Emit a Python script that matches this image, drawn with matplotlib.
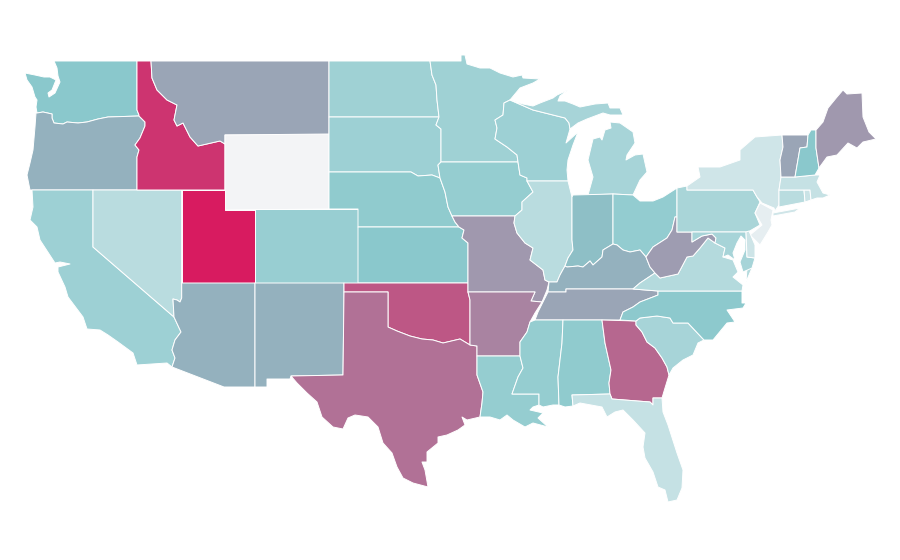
import matplotlib
matplotlib.use('Agg')
import matplotlib.pyplot as plt
from matplotlib.collections import PolyCollection
from matplotlib.colors import LinearSegmentedColormap, Normalize

# estimated from the fill colours, 0 = palest, 100 = deepest pink
states = ['WA', 'OR', 'CA', 'NV', 'ID', 'MT', 'WY', 'UT', 'AZ', 'CO', 'NM',
          'ND', 'SD', 'NE', 'KS', 'OK', 'TX', 'MN', 'IA', 'MO', 'AR', 'LA',
          'WI', 'IL', 'MI', 'IN', 'OH', 'KY', 'TN', 'MS', 'AL', 'GA', 'FL',
          'SC', 'NC', 'VA', 'WV', 'PA', 'NY', 'NJ', 'MD', 'DE', 'CT', 'RI',
          'MA', 'VT', 'NH', 'ME']
values = [25, 35, 20.5, 14, 89, 40, 0, 100, 35, 21.5, 35,
          20, 20.5, 23.5, 25, 74, 62.5, 20, 22.5, 46, 55, 22.5,
          20.5, 14, 18, 29, 23, 35, 40, 22.5, 23.5, 67, 11,
          18, 24.5, 15, 44, 17.7, 8.7, 3.4, 18, 9, 14, 10,
          11, 40, 25, 46]

# state outlines, traced in picture pixels
outlines = {
    'WA': [[(54, 61), (137, 61), (137, 110), (139, 115), (139, 116), (108, 117), (98, 119), (87, 122), (78, 123),
            (67, 122), (63, 124), (54, 123), (52, 118), (52, 114), (43, 112), (37, 113), (36, 107), (37, 100),
            (35, 97), (32, 87), (27, 80), (25, 73), (35, 75), (44, 77), (50, 77), (56, 80), (52, 90), (48, 93),
            (49, 97), (55, 93), (60, 82), (58, 76), (57, 68)]],
    'OR': [[(37, 113), (43, 112), (52, 114), (52, 118), (54, 123), (63, 124), (67, 122), (78, 123), (87, 122),
            (98, 119), (108, 117), (139, 116), (145, 122), (145, 126), (140, 138), (135, 145), (139, 150),
            (137, 157), (137, 190), (30, 190), (27, 175), (30, 163), (33, 150), (35, 127), (36, 113)]],
    'CA': [[(32, 190), (93, 190), (93, 247), (174, 317), (181, 332), (175, 340), (172, 350), (175, 358), (172, 367),
            (167, 363), (137, 365), (133, 353), (118, 342), (108, 335), (100, 330), (87, 329), (83, 317), (68, 297),
            (65, 287), (58, 272), (58, 267), (70, 264), (60, 262), (55, 263), (40, 240), (37, 227), (30, 220),
            (33, 207)]],
    'NV': [[(93, 190), (181.7, 190), (181.7, 298), (180, 302), (177, 300), (173, 299), (174, 317), (93, 247)]],
    'ID': [[(137, 61), (151, 61), (152, 78), (157, 90), (167, 100), (177, 105), (174, 120), (177, 126), (183, 123),
            (190, 137), (198, 146), (220, 141), (225, 144), (225, 190), (137, 190), (137, 157), (139, 150), (135, 145),
            (140, 138), (145, 126), (145, 122), (139, 116), (139, 115), (137, 110)]],
    'MT': [[(151, 61), (329, 61), (329, 135), (225, 135), (225, 144), (220, 141), (198, 146), (190, 137), (183, 123),
            (177, 126), (174, 120), (177, 105), (167, 100), (157, 90), (152, 78)]],
    'WY': [[(225, 135), (329, 134), (329, 209), (225, 210)]],
    'UT': [[(181.7, 190), (225, 190), (225, 210), (255, 210), (255, 283), (181.7, 283)]],
    'AZ': [[(181.7, 283), (255, 283), (255, 387), (224, 387), (172, 367), (175, 358), (172, 350), (175, 340), (181, 332),
            (174, 317), (173, 299), (177, 300), (180, 302), (181.7, 298)]],
    'CO': [[(255, 209), (358, 209), (358, 283), (255, 283)]],
    'NM': [[(255, 283), (344, 283), (344, 292), (343, 375), (291, 376), (290, 379), (267, 379), (267, 387), (255, 387)]],
    'ND': [[(329, 61), (430, 61), (432, 75), (436, 85), (437, 100), (439, 117), (329, 117)]],
    'SD': [[(329, 117), (439, 117), (436, 125), (441, 129), (441, 162), (438, 165), (440, 178), (432, 175), (418, 176),
            (411, 172), (329, 172)]],
    'NE': [[(329, 172), (411, 172), (418, 176), (432, 175), (440, 178), (445, 192), (448, 207), (452, 216), (455, 222),
            (459, 227), (358, 227), (358, 209), (329, 209)]],
    'KS': [[(358, 227), (459, 227), (464, 230), (462, 238), (468, 243), (468, 283), (358, 283)]],
    'OK': [[(344, 283), (468, 283), (468, 292), (470, 300), (470, 345), (460, 339), (443, 343), (433, 340), (422, 339),
            (410, 336), (397, 331), (388, 327), (388, 292), (344, 292)]],
    'TX': [[(344, 292), (388, 292), (388, 327), (397, 331), (410, 336), (422, 339), (433, 340), (443, 343), (460, 339),
            (470, 345), (477, 346), (477, 356), (477, 375), (483, 392), (482, 403), (480, 417), (467, 420), (462, 417),
            (465, 425), (458, 430), (447, 435), (438, 437), (438, 443), (427, 452), (427, 462), (422, 462), (425, 470),
            (428, 487), (413, 483), (403, 478), (397, 467), (392, 453), (383, 443), (378, 427), (368, 417), (355, 415),
            (348, 418), (343, 429), (333, 427), (322, 417), (317, 402), (307, 393), (297, 383), (291, 376), (343, 375)]],
    'MN': [[(430, 61), (461, 61), (461, 55), (465, 55), (467, 64), (480, 68), (490, 68), (500, 73), (513, 77), (522, 75),
            (523, 78), (540, 79), (533, 83), (520, 88), (510, 100), (504, 103), (503, 115), (495, 120), (497, 128),
            (495, 139), (507, 147), (517, 155), (518, 162), (441, 162), (441, 129), (436, 125), (439, 117), (437, 100),
            (436, 85), (432, 75)]],
    'IA': [[(441, 162), (518, 162), (520, 175), (527, 178), (527, 181), (533, 192), (522, 202), (522, 210), (515, 216),
            (452, 216), (448, 207), (445, 192), (440, 178), (438, 165)]],
    'MO': [[(452, 216), (515, 216), (514, 223), (517, 233), (525, 243), (533, 248), (530, 260), (543, 270), (545, 280),
            (549, 282), (547, 290), (542, 302), (531, 301), (535, 292), (468, 292), (468, 243), (462, 238), (464, 230),
            (459, 227), (455, 222)]],
    'AR': [[(468, 292), (535, 292), (531, 301), (542, 302), (535, 313), (530, 322), (527, 332), (520, 342), (520, 356),
            (477, 356), (477, 346), (470, 345), (470, 300)]],
    'LA': [[(477, 356), (520, 356), (523, 368), (518, 377), (512, 394), (539, 394), (539, 405), (533, 407), (530, 410),
            (543, 413), (538, 418), (548, 427), (533, 423), (525, 427), (513, 420), (507, 415), (500, 420), (490, 417),
            (480, 417), (482, 403), (483, 392), (477, 375)]],
    'WI': [[(504, 103), (510, 100), (533, 110), (553, 115), (565, 118), (569, 123), (570, 129), (566, 143), (578, 132),
            (573, 145), (568, 160), (567, 170), (568, 181), (527, 181), (527, 178), (520, 175), (518, 162), (517, 155),
            (507, 147), (495, 139), (497, 128), (495, 120), (503, 115)]],
    'IL': [[(527, 181), (568, 181), (572, 197), (572, 240), (573, 250), (568, 258), (565, 266), (560, 275), (557, 282),
            (549, 282), (545, 280), (543, 270), (530, 260), (533, 248), (525, 243), (517, 233), (514, 223), (515, 216),
            (522, 210), (522, 202), (533, 192)]],
    'MI': [[(523, 104), (533, 106), (540, 103), (553, 98), (557, 95), (568, 90), (560, 96), (558, 101), (565, 101),
            (573, 104), (580, 107), (595, 104), (608, 103), (610, 108), (620, 108), (623, 115), (610, 115), (603, 113),
            (587, 119), (578, 123), (570, 129), (569, 123), (565, 118), (553, 115), (533, 110), (510, 100)],
           [(588, 195), (593, 177), (588, 160), (593, 139), (600, 137), (602, 140), (605, 130), (611, 128), (610, 122),
            (620, 123), (633, 132), (635, 143), (627, 155), (626, 160), (635, 155), (643, 154), (647, 172), (640, 180),
            (633, 195), (613, 194)]],
    'IN': [[(572, 197), (573, 195), (613, 194), (613, 244), (603, 250), (602, 257), (593, 265), (590, 261), (583, 267),
            (578, 266), (567, 267), (565, 266), (568, 258), (573, 250), (572, 240)]],
    'OH': [[(613, 194), (633, 195), (640, 201), (653, 201), (663, 197), (677, 188), (677, 217), (675, 217), (672, 230),
            (667, 238), (653, 247), (646, 257), (640, 250), (630, 252), (623, 250), (617, 245), (613, 244)]],
    'KY': [[(565, 266), (567, 267), (578, 266), (583, 267), (590, 261), (593, 265), (602, 257), (603, 250), (613, 244),
            (617, 245), (623, 250), (630, 252), (640, 250), (646, 257), (650, 267), (655, 273), (640, 283), (633, 289),
            (566, 289), (566, 292), (548, 292), (549, 282), (557, 282), (560, 275)]],
    'TN': [[(548, 292), (566, 292), (566, 289), (633, 289), (658, 291), (658, 295), (653, 297), (640, 302), (633, 307),
            (623, 312), (620, 320), (535, 320), (538, 312), (543, 302)]],
    'MS': [[(535, 320), (563, 320), (562, 343), (558, 377), (559, 405), (553, 405), (543, 407), (539, 405), (539, 394),
            (512, 394), (518, 377), (523, 368), (520, 356), (520, 342), (527, 332), (530, 322)]],
    'AL': [[(563, 320), (602, 320), (605, 343), (611, 370), (609, 383), (610, 394), (572, 395), (573, 406), (565, 407),
            (559, 405), (558, 377), (562, 343)]],
    'GA': [[(602, 320), (636, 321), (636, 325), (642, 332), (647, 342), (655, 348), (662, 358), (667, 367), (669, 375),
            (665, 388), (662, 398), (653, 398), (653, 405), (650, 402), (612, 399), (610, 394), (609, 383), (611, 370),
            (605, 343)]],
    'FL': [[(572, 395), (610, 394), (612, 399), (650, 402), (653, 405), (653, 398), (662, 398), (663, 412), (668, 425),
            (677, 453), (683, 470), (682, 488), (677, 500), (668, 502), (665, 490), (658, 487), (653, 472), (645, 458),
            (643, 447), (645, 433), (633, 420), (623, 410), (615, 412), (607, 417), (602, 407), (580, 403), (573, 406)]],
    'SC': [[(636, 325), (636, 321), (640, 318), (657, 316), (670, 318), (673, 323), (688, 323), (704, 340), (698, 343),
            (693, 355), (683, 360), (673, 368), (669, 375), (667, 367), (662, 358), (655, 348), (647, 342), (642, 332)]],
    'NC': [[(620, 320), (623, 312), (633, 307), (640, 302), (653, 297), (658, 295), (658, 291), (742, 291), (742, 303),
            (746, 303), (743, 308), (727, 310), (735, 322), (727, 323), (713, 340), (704, 340), (688, 323), (673, 323),
            (670, 318), (657, 316), (640, 318), (636, 321)]],
    'VA': [[(633, 289), (640, 283), (655, 273), (660, 278), (678, 274), (687, 257), (693, 256), (700, 248), (708, 238),
            (715, 243), (725, 248), (723, 257), (733, 260), (738, 272), (733, 277), (743, 285), (742, 291), (658, 291)],
           [(747, 268), (752, 268), (746, 282)]],
    'WV': [[(675, 217), (677, 217), (677, 232), (692, 232), (692, 242), (702, 236), (712, 234), (716, 238), (715, 243),
            (708, 238), (700, 248), (693, 256), (687, 257), (678, 274), (660, 278), (655, 273), (650, 267), (646, 257),
            (653, 247), (667, 238), (672, 230)]],
    'PA': [[(677, 188), (687, 186), (687, 190), (753, 190), (757, 197), (760, 202), (755, 213), (760, 225), (748, 232),
            (677, 232)]],
    'NY': [[(687, 190), (687, 186), (700, 177), (698, 167), (720, 167), (740, 160), (740, 150), (755, 137), (782, 135),
            (783, 147), (780, 160), (781, 177), (779, 190), (779, 205), (775, 211), (774, 208), (762, 203), (757, 197),
            (753, 190)],
           [(773, 213), (800, 208), (795, 212), (773, 216)]],
    'NJ': [[(760, 203), (773, 210), (771, 220), (772, 225), (768, 232), (760, 245), (750, 235), (762, 225), (755, 213)]],
    'MD': [[(692, 232), (746, 232), (747, 257), (755, 258), (752, 268), (743, 272), (740, 262), (745, 250), (745, 240),
            (741, 236), (737, 243), (733, 253), (735, 260), (728, 255), (723, 257), (725, 248), (715, 243), (716, 238),
            (712, 234), (702, 236), (692, 242)]],
    'DE': [[(746, 232), (749, 231), (755, 245), (755, 258), (747, 257)]],
    'CT': [[(779, 190), (804, 190), (805, 202), (779, 207)]],
    'RI': [[(804, 190), (810, 190), (811, 200), (805, 202)]],
    'MA': [[(781, 177), (795, 177), (815, 175), (820, 175), (817, 182), (823, 193), (830, 195), (823, 198), (817, 198),
            (811, 200), (810, 190), (779, 190)]],
    'VT': [[(782, 135), (808, 135), (807, 147), (800, 148), (795, 177), (781, 177), (780, 160), (783, 147)]],
    'NH': [[(808, 135), (811, 130), (816, 130), (816, 148), (819, 168), (815, 175), (795, 177), (800, 148), (807, 147)]],
    'ME': [[(816, 130), (823, 122), (828, 108), (837, 97), (843, 90), (847, 94), (862, 93), (863, 117), (869, 132),
            (876, 139), (863, 142), (857, 148), (848, 143), (837, 155), (827, 157), (819, 168), (816, 148)]],
}

cmap = LinearSegmentedColormap.from_list('map_scale', [(0, '#f3f4f6'), (0.25, '#8ac8cc'), (1, '#d81b60')])

polys = []
poly_values = []
for state, value in zip(states, values):
    for part in outlines[state]:
        polys.append(part)
        poly_values.append(value)

fig = plt.figure(figsize=(9, 5.6), dpi=100)
ax = fig.add_axes([0, 0, 1, 1])
shapes = PolyCollection(polys, array=poly_values, cmap=cmap, norm=Normalize(0, 100),
                        edgecolors='white', linewidths=0.7)
ax.add_collection(shapes)
ax.set_xlim(0, 900)
ax.set_ylim(560, 0)
ax.axis('off')

fig.savefig('out.png', dpi=100)
